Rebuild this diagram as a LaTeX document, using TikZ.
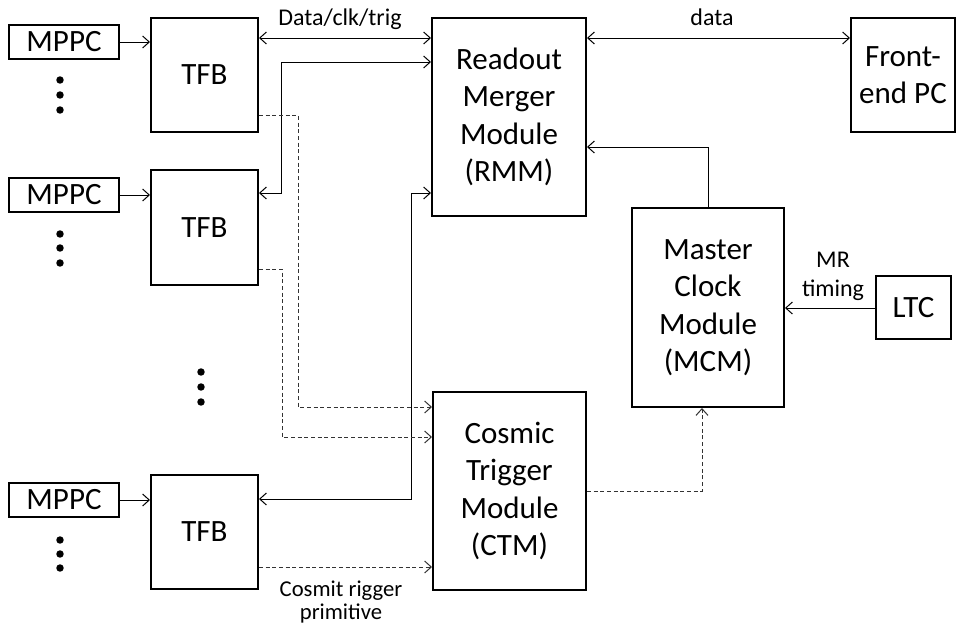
\documentclass[tikz,border=0pt]{standalone}
\usepackage{fontspec}
\setmainfont{Carlito}
\usetikzlibrary{arrows.meta}
\begin{document}
\begin{tikzpicture}[x=0.75pt,y=-0.75pt,
  >={Straight Barb[length=5pt,width=9pt]},
  box/.style={draw, line width=1.5pt, align=center, inner sep=0pt, font=\fontsize{23.25}{28.1}\selectfont},
  lbl/.style={align=center, inner sep=0pt, font=\fontsize{18}{21.6}\selectfont},
  tightlbl/.style={align=center, inner sep=0pt, font=\fontsize{17}{17.5}\selectfont},
  conn/.style={line width=0.75pt},
  dconn/.style={line width=0.75pt, dash pattern=on 3pt off 2pt, black!80},
  dotmark/.style={fill=black}]
\useasboundingbox (0,0) rectangle (960,625);

% boxes
\node[box, minimum width=82.5pt, minimum height=25.5pt] (mppc1) at (64,42) {MPPC};
\node[box, minimum width=82.5pt, minimum height=26pt] (mppc2) at (64,195) {MPPC};
\node[box, minimum width=82.5pt, minimum height=26pt] (mppc3) at (64,500) {MPPC};
\node[box, minimum width=80.25pt, minimum height=85.5pt] (tfb1) at (204.5,74.5) {TFB};
\node[box, minimum width=80.25pt, minimum height=86.25pt] (tfb2) at (204.5,227.5) {TFB};
\node[box, minimum width=80.25pt, minimum height=85.5pt] (tfb3) at (204.5,532) {TFB};
\node[box, minimum width=115.5pt, minimum height=148.5pt] (rmm) at (509,117) {Readout\\Merger\\Module\\(RMM)};
\node[box, minimum width=114.75pt, minimum height=148.5pt] (ctm) at (509.5,491) {Cosmic\\Trigger\\Module\\(CTM)};
\node[box, minimum width=114pt, minimum height=149.25pt] (mcm) at (708,307.5) {Master\\Clock\\Module\\(MCM)};
\node[box, minimum width=78pt, minimum height=85.5pt] (fepc) at (903,75) {Front-\\end PC};
\node[box, minimum width=56.25pt, minimum height=47.25pt] (ltc) at (913.5,307.5) {LTC};

% helper coordinates
\coordinate (hA) at (0,38);
\coordinate (hB) at (0,62);
\coordinate (hC) at (0,193);
\coordinate (hD) at (0,499);
\coordinate (hE) at (0,115);
\coordinate (hF) at (0,407);
\coordinate (hG) at (0,269);
\coordinate (hH) at (0,437);
\coordinate (hI) at (0,567);
\coordinate (hJ) at (0,491);
\coordinate (hK) at (0,147);
\coordinate (hL) at (0,308);
\coordinate (vB) at (281,0);
\coordinate (vC) at (411,0);
\coordinate (vE) at (298,0);
\coordinate (vG) at (282,0);
\coordinate (vJ) at (702,0);
\coordinate (vK) at (708,0);

% MPPC -> TFB
\draw[conn,->] (mppc1) -- (tfb1.west |- mppc1);
\draw[conn,->] (mppc2) -- (tfb2.west |- mppc2);
\draw[conn,->] (mppc3) -- (tfb3.west |- mppc3);

% solid links
\draw[conn,<->] (tfb1.east |- hA) -- (rmm.west |- hA);
\node[lbl] (lblA) at (340,19) {Data/clk/trig};
\draw[conn,<->] (tfb2.east |- hC) -- (vB |- hC) -- (vB |- hB) -- (rmm.west |- hB);
\draw[conn,<->] (tfb3.east |- hD) -- (vC |- hD) -- (vC |- hC) -- (rmm.west |- hC);
\draw[conn,<->] (rmm.east |- hA) -- (fepc.west |- hA);
\node[lbl] (lblB) at (712,17) {data};
\draw[conn,->] (mcm.north -| vK) -- (vK |- hK) -- (rmm.east |- hK);
\draw[conn,->] (ltc.west |- hL) -- (mcm.east |- hL);
\node[lbl] (lblC) at (833,276) {MR\\timing};

% dashed trigger links
\draw[dconn,->] (tfb1.east |- hE) -- (vE |- hE) -- (vE |- hF) -- (ctm.west |- hF);
\draw[dconn,->] (tfb2.east |- hG) -- (vG |- hG) -- (vG |- hH) -- (ctm.west |- hH);
\draw[dconn,->] (tfb3.east |- hI) -- (ctm.west |- hI);
\node[tightlbl] (lblD) at (341,602) {Cosmit rigger\\primitive};
\draw[dconn,->] (ctm.east |- hJ) -- (vJ |- hJ) -- (mcm.south -| vJ);

% dots
\foreach \yy in {80,95,110,234,248,263,540,554,568}
  \fill[dotmark] (60,\yy) circle[radius=2.8pt];
\foreach \yy in {372,387,402}
  \fill[dotmark] (201,\yy) circle[radius=2.8pt];
\end{tikzpicture}
\end{document}
